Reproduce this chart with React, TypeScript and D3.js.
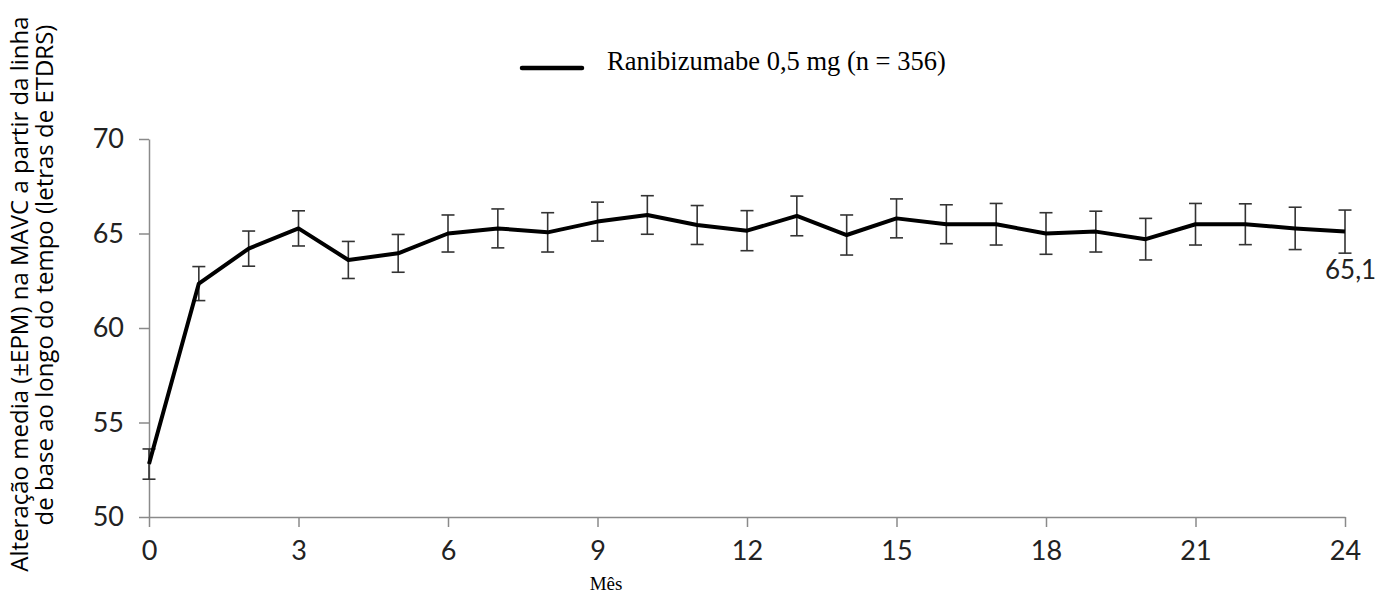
import React, { useEffect, useRef } from 'react';
import * as d3 from 'd3';

// months 0..24
const months = d3.range(0, 25);
const meanBcva = [
  52.8, 62.35, 64.2, 65.27, 63.6, 63.95, 65.0, 65.27, 65.06, 65.63, 65.98, 65.45, 65.15,
  65.93, 64.92, 65.8, 65.49, 65.49, 65.0, 65.1, 64.7, 65.49, 65.49, 65.27, 65.1
];
const sem = [
  0.8, 0.9, 0.93, 0.93, 0.98, 1.0, 0.98, 1.03, 1.04, 1.03, 1.02, 1.03, 1.06,
  1.05, 1.06, 1.03, 1.03, 1.1, 1.1, 1.08, 1.1, 1.1, 1.08, 1.12, 1.14
];
const xTicks = [0, 3, 6, 9, 12, 15, 18, 21, 24];
const yTicks = [50, 55, 60, 65, 70];
const legendLabel = 'Ranibizumabe 0,5 mg (n = 356)';
const yLabelLines = [
  'Alteração media (±EPM) na MAVC a partir da linha',
  'de base ao longo do tempo (letras de ETDRS)'
];
const xLabel = 'Mês';
const endLabel = '65,1';

const W = 1378;
const H = 593;

const App: React.FC = () => {
  const svgRef = useRef<SVGSVGElement>(null);

  useEffect(() => {
    if (!svgRef.current) return;
    const svg = d3.select(svgRef.current);
    svg.selectAll('*').remove();

    const margin = { top: 139, left: 149, right: 33, bottom: 76 };
    const innerW = W - margin.left - margin.right;
    const innerH = H - margin.top - margin.bottom;

    const x = d3.scaleLinear().domain([0, 24]).range([0, innerW]);
    const y = d3.scaleLinear().domain([50, 70]).range([innerH, 0]);

    const g = svg.append('g').attr('transform', `translate(${margin.left},${margin.top})`);

    const axisColor = '#8a8a8a';
    const tickFont = 'Lato, "Open Sans", sans-serif';
    const serif = '"Liberation Serif", "Times New Roman", serif';

    // y axis
    const yAxis = g.append('g').call(
      d3.axisLeft(y).tickValues(yTicks).tickSize(10).tickSizeOuter(0).tickPadding(15)
    );
    yAxis.select('.domain').attr('stroke', axisColor).attr('stroke-width', 1.5);
    yAxis.selectAll('.tick line').attr('stroke', axisColor).attr('stroke-width', 1.5);
    yAxis.selectAll('.tick text')
      .attr('font-family', tickFont)
      .attr('font-size', 27)
      .attr('fill', '#222');

    // x axis
    const xAxis = g.append('g')
      .attr('transform', `translate(0,${innerH})`)
      .call(d3.axisBottom(x).tickValues(xTicks).tickSize(10).tickSizeOuter(0).tickPadding(14));
    xAxis.select('.domain').attr('stroke', axisColor).attr('stroke-width', 1.5);
    xAxis.selectAll('.tick line').attr('stroke', axisColor).attr('stroke-width', 1.5);
    xAxis.selectAll('.tick text')
      .attr('font-family', tickFont)
      .attr('font-size', 27)
      .attr('fill', '#222');

    // error bars
    const capW = 6.5;
    months.forEach((m, i) => {
      const cx = x(m);
      const lo = y(meanBcva[i] - sem[i]);
      const hi = y(meanBcva[i] + sem[i]);
      const eb = g.append('g').attr('stroke', '#333').attr('stroke-width', 1.6);
      eb.append('line').attr('x1', cx).attr('x2', cx).attr('y1', lo).attr('y2', hi);
      eb.append('line').attr('x1', cx - capW).attr('x2', cx + capW).attr('y1', lo).attr('y2', lo);
      eb.append('line').attr('x1', cx - capW).attr('x2', cx + capW).attr('y1', hi).attr('y2', hi);
    });

    // mean line
    const line = d3.line<number>()
      .x((_, i) => x(months[i]))
      .y(d => y(d));
    g.append('path')
      .datum(meanBcva)
      .attr('d', line)
      .attr('fill', 'none')
      .attr('stroke', '#000')
      .attr('stroke-width', 4)
      .attr('stroke-linejoin', 'round');

    // end value label
    g.append('text')
      .attr('x', x(24) - 20)
      .attr('y', y(meanBcva[24]) + 47)
      .attr('font-family', tickFont)
      .attr('font-size', 26)
      .attr('fill', '#222')
      .text(endLabel);

    // legend
    svg.append('line')
      .attr('x1', 522).attr('x2', 582)
      .attr('y1', 68).attr('y2', 68)
      .attr('stroke', '#000').attr('stroke-width', 4.5)
      .attr('stroke-linecap', 'round');
    svg.append('text')
      .attr('x', 607).attr('y', 70)
      .attr('font-family', serif)
      .attr('font-size', 26.5)
      .attr('fill', '#000')
      .text(legendLabel);

    // x label
    svg.append('text')
      .attr('x', 606).attr('y', 590)
      .attr('text-anchor', 'middle')
      .attr('font-family', serif)
      .attr('font-size', 19)
      .attr('fill', '#000')
      .text(xLabel);

    // y label (two rotated lines)
    const yCenters = [294, 275];
    const yXs = [28, 53];
    yLabelLines.forEach((t, i) => {
      svg.append('text')
        .attr('transform', `translate(${yXs[i]},${yCenters[i]}) rotate(-90)`)
        .attr('text-anchor', 'middle')
        .attr('font-family', '"Open Sans", sans-serif')
        .attr('font-size', 24)
        .attr('fill', '#000')
        .text(t);
    });
  }, []);

  return (
    <svg
      ref={svgRef}
      width={W}
      height={H}
      style={{ position: 'absolute', left: 0, top: 0, background: '#fff' }}
    />
  );
};

export default App;
